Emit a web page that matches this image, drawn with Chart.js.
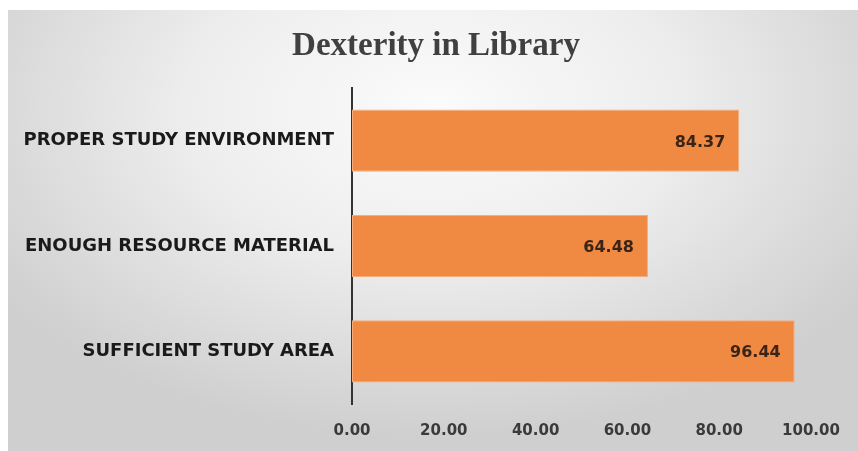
<!DOCTYPE html>
<html>
<head>
<meta charset="utf-8">
<script src="https://cdn.jsdelivr.net/npm/chart.js@4/dist/chart.umd.min.js"></script>
<style>
  html,body{margin:0;padding:0;background:#fff;}
  #wrap{position:relative;width:858px;height:451px;overflow:hidden;}
  #panel{position:absolute;left:8px;top:10px;right:0;bottom:0;
    background:radial-gradient(ellipse 62% 75% at 50% 22%, #fbfbfb 0%, #eeeeee 45%, #dadada 80%, #cfcfcf 100%);}
  #chart{position:absolute;left:0;top:0;}
</style>
</head>
<body>
<div id="wrap">
  <div id="panel"></div>
  <canvas id="chart" width="858" height="451"></canvas>
</div>
<script>
const titleText = "Dexterity in Library";
const categories = ["PROPER STUDY ENVIRONMENT", "ENOUGH RESOURCE MATERIAL", "SUFFICIENT STUDY AREA"];
const values = [84.37, 64.48, 96.44];
const xTicks = [0, 20, 40, 60, 80, 100];

// titolo: centrato sul pannello, non sull'area del grafico
const chartTitle = {
  id: "chartTitle",
  afterDraw(chart){
    const ctx = chart.ctx;
    ctx.save();
    ctx.font = "bold 33px 'Liberation Serif'";
    ctx.fillStyle = "#404040";
    ctx.textAlign = "center";
    ctx.textBaseline = "middle";
    ctx.fillText(titleText, 436, 46);
    ctx.restore();
  }
};

// valori dentro la barra, allineati a destra
const valueLabels = {
  id: "valueLabels",
  afterDatasetsDraw(chart){
    const ctx = chart.ctx;
    const meta = chart.getDatasetMeta(0);
    ctx.save();
    ctx.font = "bold 16px 'DejaVu Sans'";
    ctx.fillStyle = "#3a2418";
    ctx.textAlign = "right";
    ctx.textBaseline = "middle";
    meta.data.forEach((bar, i)=>{
      ctx.fillText(values[i].toFixed(2), bar.x - 14, bar.y + 2);
    });
    ctx.restore();
  }
};

new Chart(document.getElementById("chart"), {
  type: "bar",
  data: {
    labels: categories,
    datasets: [{
      data: values,
      backgroundColor: "#f08a42",
      borderColor: "#f6ad7a",
      borderWidth: 1,
      borderSkipped: false,
      barPercentage: 0.59,
      categoryPercentage: 1
    }]
  },
  options: {
    indexAxis: "y",
    responsive: false,
    animation: false,
    layout: {padding: {left: 0, right: 47, top: 88, bottom: 0}},
    plugins: {
      legend: {display: false},
      tooltip: {enabled: false},
      title: {display: false}
    },
    scales: {
      x: {
        min: 0, max: 100,
        afterBuildTicks(scale){ scale.ticks = xTicks.map(v=>({value: v})); },
        afterFit(scale){ scale.height = 47; },
        grid: {display: false, drawTicks: false},
        border: {display: false},
        ticks: {
          padding: 18,
          color: "#3a3a3a",
          font: {family: "'DejaVu Sans'", size: 15, weight: "bold"},
          callback: v => Number(v).toFixed(2)
        }
      },
      y: {
        afterFit(scale){ scale.width = 352; },
        grid: {display: false, drawTicks: false},
        border: {display: true, color: "#333", width: 2},
        ticks: {
          padding: 18,
          color: "#1a1a1a",
          font: {family: "'DejaVu Sans'", size: 18, weight: "bold"}
        }
      }
    }
  },
  plugins: [valueLabels, chartTitle]
});
</script>
</body>
</html>
